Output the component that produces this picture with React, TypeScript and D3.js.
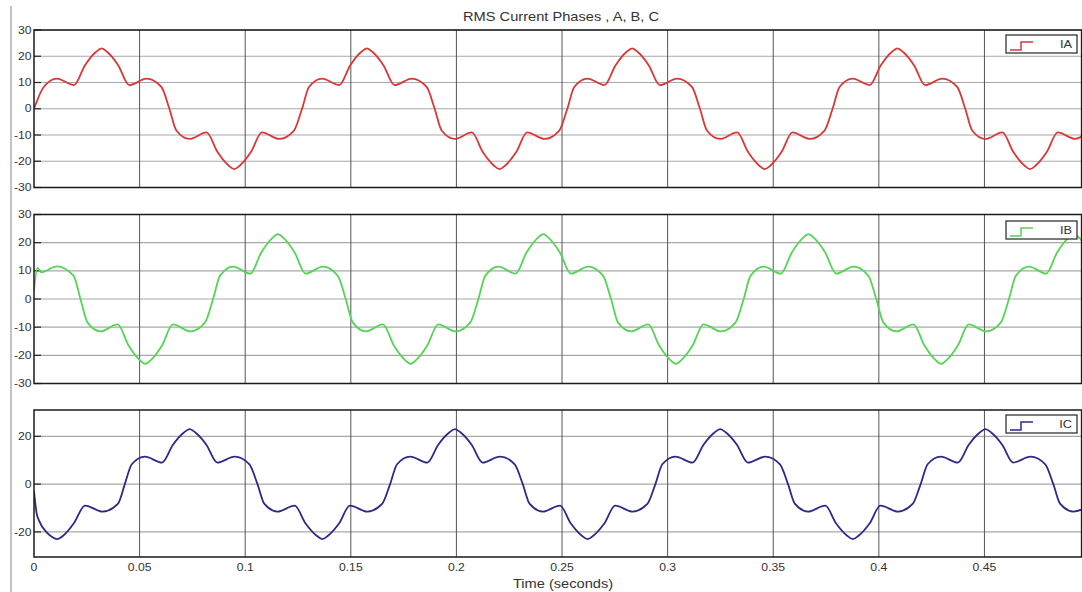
import React from "react";
import { scaleLinear, line, curveMonotoneX } from "d3";

const width = 1082;
const height = 592;

// plot area shared by the three scopes
const plotLeft = 34;
const plotRight = 1081.6;
const stretch = 1.22; // the screenshot text is wider than it is tall
const fontFamily = "'Liberation Sans', Arial, sans-serif";

const titleText = "RMS Current Phases , A, B, C";
const xAxisLabel = "Time (seconds)";

const timeDomain = [0, 0.496];
const timeTicks = [0, 0.05, 0.1, 0.15, 0.2, 0.25, 0.3, 0.35, 0.4, 0.45];
const timeTickLabels = ["0", "0.05", "0.1", "0.15", "0.2", "0.25", "0.3", "0.35", "0.4", "0.45"];
const ticksAB = [30, 20, 10, 0, -10, -20, -30];
const ticksC = [20, 0, -20];

// Phase A
const timeA = [
  0, 0.0046, 0.0108, 0.0189, 0.0241, 0.0293, 0.032, 0.0347, 0.0399, 0.0451, 0.0533, 0.0603,
  0.0641, 0.0674, 0.0736, 0.0817, 0.0869, 0.0921, 0.0948, 0.0975, 0.1027, 0.1079, 0.1161, 0.1231,
  0.1269, 0.1302, 0.1364, 0.1445, 0.1497, 0.1549, 0.1576, 0.1603, 0.1655, 0.1707, 0.1789, 0.1859,
  0.1897, 0.193, 0.1992, 0.2073, 0.2125, 0.2177, 0.2204, 0.2231, 0.2283, 0.2335, 0.2417, 0.2487,
  0.2525, 0.2558, 0.262, 0.2701, 0.2753, 0.2805, 0.2832, 0.2859, 0.2911, 0.2963, 0.3045, 0.3115,
  0.3153, 0.3186, 0.3248, 0.3329, 0.3381, 0.3433, 0.346, 0.3487, 0.3539, 0.3591, 0.3673, 0.3743,
  0.3781, 0.3814, 0.3876, 0.3957, 0.4009, 0.4061, 0.4088, 0.4115, 0.4167, 0.4219, 0.4301, 0.4371,
  0.4409, 0.4442, 0.4504, 0.4585, 0.4637, 0.4689, 0.4716, 0.4743, 0.4795, 0.4847, 0.4929, 0.4999,
];
const currentA = [
  0, 8.3, 11.5, 9, 16.5, 21.6, 23, 21.6, 16.5, 9, 11.5, 8.3,
  0, -8.3, -11.5, -9, -16.5, -21.6, -23, -21.6, -16.5, -9, -11.5, -8.3,
  0, 8.3, 11.5, 9, 16.5, 21.6, 23, 21.6, 16.5, 9, 11.5, 8.3,
  0, -8.3, -11.5, -9, -16.5, -21.6, -23, -21.6, -16.5, -9, -11.5, -8.3,
  0, 8.3, 11.5, 9, 16.5, 21.6, 23, 21.6, 16.5, 9, 11.5, 8.3,
  0, -8.3, -11.5, -9, -16.5, -21.6, -23, -21.6, -16.5, -9, -11.5, -8.3,
  0, 8.3, 11.5, 9, 16.5, 21.6, 23, 21.6, 16.5, 9, 11.5, 8.3,
  0, -8.3, -11.5, -9, -16.5, -21.6, -23, -21.6, -16.5, -9, -11.5, -8.3,
];

// Phase B
const timeB = [
  0, 0.0016, 0.0036, 0.0107, 0.0187,
  0.022, 0.0253, 0.0315, 0.0396, 0.0448, 0.05, 0.0527, 0.0554, 0.0606, 0.0658, 0.074, 0.081,
  0.0848, 0.0881, 0.0943, 0.1024, 0.1076, 0.1128, 0.1155, 0.1182, 0.1234, 0.1286, 0.1368, 0.1438,
  0.1476, 0.1509, 0.1571, 0.1652, 0.1704, 0.1756, 0.1783, 0.181, 0.1862, 0.1914, 0.1996, 0.2066,
  0.2104, 0.2137, 0.2199, 0.228, 0.2332, 0.2384, 0.2411, 0.2438, 0.249, 0.2542, 0.2624, 0.2694,
  0.2732, 0.2765, 0.2827, 0.2908, 0.296, 0.3012, 0.3039, 0.3066, 0.3118, 0.317, 0.3252, 0.3322,
  0.336, 0.3393, 0.3455, 0.3536, 0.3588, 0.364, 0.3667, 0.3694, 0.3746, 0.3798, 0.388, 0.395,
  0.3988, 0.4021, 0.4083, 0.4164, 0.4216, 0.4268, 0.4295, 0.4322, 0.4374, 0.4426, 0.4508, 0.4578,
  0.4616, 0.4649, 0.4711, 0.4792, 0.4844, 0.4896, 0.4923, 0.495, 0.5002,
];
const currentB = [
  3, 11, 9.5, 11.6, 8.3,
  0, -8.3, -11.5, -9, -16.5, -21.6, -23, -21.6, -16.5, -9, -11.5, -8.3,
  0, 8.3, 11.5, 9, 16.5, 21.6, 23, 21.6, 16.5, 9, 11.5, 8.3,
  0, -8.3, -11.5, -9, -16.5, -21.6, -23, -21.6, -16.5, -9, -11.5, -8.3,
  0, 8.3, 11.5, 9, 16.5, 21.6, 23, 21.6, 16.5, 9, 11.5, 8.3,
  0, -8.3, -11.5, -9, -16.5, -21.6, -23, -21.6, -16.5, -9, -11.5, -8.3,
  0, 8.3, 11.5, 9, 16.5, 21.6, 23, 21.6, 16.5, 9, 11.5, 8.3,
  0, -8.3, -11.5, -9, -16.5, -21.6, -23, -21.6, -16.5, -9, -11.5, -8.3,
  0, 8.3, 11.5, 9, 16.5, 21.6, 23, 21.6, 16.5,
];

// Phase C
const timeC = [
  0, 0.0012, 0.0025, 0.0058, 0.0084, 0.0111, 0.0138, 0.0188, 0.0242, 0.0325, 0.0397,
  0.043, 0.0463, 0.0525, 0.0606, 0.0658, 0.071, 0.0737, 0.0764, 0.0816, 0.0868, 0.095, 0.102,
  0.1058, 0.1091, 0.1153, 0.1234, 0.1286, 0.1338, 0.1365, 0.1392, 0.1444, 0.1496, 0.1578, 0.1648,
  0.1686, 0.1719, 0.1781, 0.1862, 0.1914, 0.1966, 0.1993, 0.202, 0.2072, 0.2124, 0.2206, 0.2276,
  0.2314, 0.2347, 0.2409, 0.249, 0.2542, 0.2594, 0.2621, 0.2648, 0.27, 0.2752, 0.2834, 0.2904,
  0.2942, 0.2975, 0.3037, 0.3118, 0.317, 0.3222, 0.3249, 0.3276, 0.3328, 0.338, 0.3462, 0.3532,
  0.357, 0.3603, 0.3665, 0.3746, 0.3798, 0.385, 0.3877, 0.3904, 0.3956, 0.4008, 0.409, 0.416,
  0.4198, 0.4231, 0.4293, 0.4374, 0.4426, 0.4478, 0.4505, 0.4532, 0.4584, 0.4636, 0.4718, 0.4788,
  0.4826, 0.4859, 0.4921, 0.5002,
];
const currentC = [
  -3, -12, -15.5, -20, -22, -23, -21.6, -16.5, -9, -11.5, -8.3,
  0, 8.3, 11.5, 9, 16.5, 21.6, 23, 21.6, 16.5, 9, 11.5, 8.3,
  0, -8.3, -11.5, -9, -16.5, -21.6, -23, -21.6, -16.5, -9, -11.5, -8.3,
  0, 8.3, 11.5, 9, 16.5, 21.6, 23, 21.6, 16.5, 9, 11.5, 8.3,
  0, -8.3, -11.5, -9, -16.5, -21.6, -23, -21.6, -16.5, -9, -11.5, -8.3,
  0, 8.3, 11.5, 9, 16.5, 21.6, 23, 21.6, 16.5, 9, 11.5, 8.3,
  0, -8.3, -11.5, -9, -16.5, -21.6, -23, -21.6, -16.5, -9, -11.5, -8.3,
  0, 8.3, 11.5, 9, 16.5, 21.6, 23, 21.6, 16.5, 9, 11.5, 8.3,
  0, -8.3, -11.5, -9,
];

const redColor = "#d83838";
const greenColor = "#55d455";
const blueColor = "#2a2a88";

const panels = [
  { name: "IA", top: 30, bottom: 187.5, domain: [-30, 30], ticks: ticksAB, time: timeA, values: currentA, color: redColor, legendY: 35 },
  { name: "IB", top: 214.5, bottom: 383.5, domain: [-30, 30], ticks: ticksAB, time: timeB, values: currentB, color: greenColor, legendY: 221 },
  { name: "IC", top: 410, bottom: 557, domain: [-30.5, 31], ticks: ticksC, time: timeC, values: currentC, color: blueColor, legendY: 415 },
];

const xScale = scaleLinear().domain(timeDomain).range([plotLeft, plotRight]);

// text with the horizontal stretch of the original screenshot
const Label = ({ x, y, size, anchor = "middle", children }: any) => (
  <text
    transform={`translate(${x},${y}) scale(${stretch},1)`}
    fontSize={size}
    textAnchor={anchor}
    fill="#333"
    fontFamily={fontFamily}
  >
    {children}
  </text>
);

const Legend = ({ name, color, y }: any) => {
  const x0 = 1006;
  const w = 71;
  const h = 18;
  return (
    <g>
      <rect x={x0} y={y} width={w} height={h} fill="#fff" stroke="#333" strokeWidth={1.3} />
      <path
        d={`M${x0 + 4},${y + h - 3}H${x0 + 15}V${y + 7}H${x0 + 27}`}
        fill="none"
        stroke={color}
        strokeWidth={1.5}
      />
      <Label x={x0 + w - 5} y={y + 13} size={10.5} anchor="end">
        {name}
      </Label>
    </g>
  );
};

const Panel = ({ panel, index }: any) => {
  const yScale = scaleLinear().domain(panel.domain).range([panel.bottom, panel.top]);
  const points = panel.time.map((t: number, i: number) => [t, panel.values[i]]);
  const lineGenerator = line<number[]>()
    .x((d) => xScale(d[0]))
    .y((d) => yScale(d[1]))
    .curve(curveMonotoneX);
  const clipId = `clip-${index}`;
  return (
    <g>
      <defs>
        <clipPath id={clipId}>
          <rect x={plotLeft} y={panel.top} width={plotRight - plotLeft} height={panel.bottom - panel.top} />
        </clipPath>
      </defs>
      <rect x={plotLeft} y={panel.top} width={plotRight - plotLeft} height={panel.bottom - panel.top} fill="#fff" />
      {/* horizontal grid */}
      {panel.ticks.map((v: number) => (
        <line key={`h${v}`} x1={plotLeft} x2={plotRight} y1={yScale(v)} y2={yScale(v)} stroke="#a8a8a8" strokeWidth={1.2} />
      ))}
      {/* vertical grid */}
      {timeTicks.slice(1).map((t) => (
        <line key={`v${t}`} x1={xScale(t)} x2={xScale(t)} y1={panel.top} y2={panel.bottom} stroke="#555" strokeWidth={1} />
      ))}
      {/* ticks + labels */}
      {panel.ticks.map((v: number) => (
        <g key={`t${v}`}>
          <line x1={plotLeft} x2={plotLeft + 7} y1={yScale(v)} y2={yScale(v)} stroke="#222" strokeWidth={1.2} />
          <Label x={31.5} y={yScale(v) + 3.6} size={10} anchor="end">
            {v}
          </Label>
        </g>
      ))}
      <path
        d={lineGenerator(points) || ""}
        fill="none"
        stroke={panel.color}
        strokeWidth={1.8}
        strokeLinejoin="round"
        clipPath={`url(#${clipId})`}
      />
      <rect
        x={plotLeft}
        y={panel.top}
        width={plotRight - plotLeft}
        height={panel.bottom - panel.top}
        fill="none"
        stroke="#1a1a1a"
        strokeWidth={1.5}
      />
      <Legend name={panel.name} color={panel.color} y={panel.legendY} />
    </g>
  );
};

export default function App() {
  return (
    <svg
      width={width}
      height={height}
      style={{ position: "absolute", left: 0, top: 0, background: "#fff" }}
    >
      <rect width={width} height={height} fill="#fff" />
      {/* outer frame line on the left of the screenshot */}
      <line x1={11} x2={11} y1={6} y2={height} stroke="#999" strokeWidth={1.2} />
      <Label x={561} y={21} size={12}>
        {titleText}
      </Label>
      {panels.map((p, i) => (
        <Panel key={p.name} panel={p} index={i} />
      ))}
      {timeTicks.map((t, i) => (
        <Label key={t} x={xScale(t)} y={571} size={10}>
          {timeTickLabels[i]}
        </Label>
      ))}
      <Label x={563} y={588} size={12}>
        {xAxisLabel}
      </Label>
    </svg>
  );
}
